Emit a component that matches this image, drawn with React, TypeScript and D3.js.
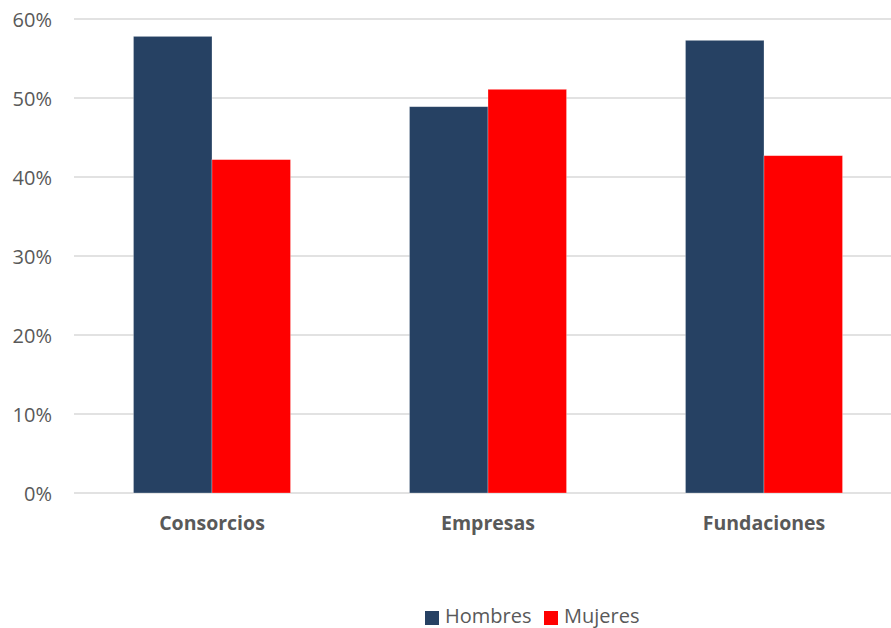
import React from "react";
import * as d3 from "d3";

const categories = ["Consorcios", "Empresas", "Fundaciones"];
const seriesNames = ["Hombres", "Mujeres"];
const hombres = [0.578, 0.489, 0.573];
const mujeres = [0.422, 0.511, 0.427];
const yTicks = [0, 0.1, 0.2, 0.3, 0.4, 0.5, 0.6];
const colors = ["#264163", "#FF0000"];

const W = 891;
const H = 628;

export default function App() {
  const x = d3
    .scaleBand<string>()
    .domain(categories)
    .range([74, 902])
    .paddingInner(0.431)
    .paddingOuter(0.2155);
  const xs = d3.scaleBand<string>().domain(seriesNames).range([0, x.bandwidth()]);
  const y = d3.scaleLinear().domain([0, 0.6]).range([493, 19]);
  const fmt = d3.format(".0%");
  const values = [hombres, mujeres];
  const font = "'Open Sans', sans-serif";

  return (
    <svg
      width={W}
      height={H}
      style={{ position: "absolute", left: 0, top: 0, background: "#fff" }}
      fontFamily={font}
    >
      {yTicks.map((t) => (
        <g key={t}>
          <line x1={74} x2={W} y1={y(t)} y2={y(t)} stroke="#d9d9d9" strokeWidth={1.5} />
          <text
            x={52}
            y={y(t)}
            textAnchor="end"
            dominantBaseline="central"
            fontSize={20}
            fill="#595959"
          >
            {fmt(t)}
          </text>
        </g>
      ))}
      {categories.map((c, i) => (
        <g key={c}>
          {seriesNames.map((s, j) => (
            <rect
              key={s}
              x={(x(c) ?? 0) + (xs(s) ?? 0)}
              y={y(values[j][i])}
              width={xs.bandwidth()}
              height={y(0) - y(values[j][i])}
              fill={colors[j]}
              stroke="#ffffff"
              strokeOpacity={0.4}
              strokeWidth={0.7}
            />
          ))}
          <text
            x={(x(c) ?? 0) + x.bandwidth() / 2}
            y={530}
            textAnchor="middle"
            fontSize={19.5}
            fontWeight="bold"
            fill="#595959"
          >
            {c}
          </text>
        </g>
      ))}
      <g>
        <rect x={425} y={611} width={14} height={14} fill={colors[0]} />
        <text x={445} y={615} dominantBaseline="central" fontSize={20} fill="#595959">
          {seriesNames[0]}
        </text>
        <rect x={544} y={611} width={14} height={14} fill={colors[1]} />
        <text x={564} y={615} dominantBaseline="central" fontSize={20} fill="#595959">
          {seriesNames[1]}
        </text>
      </g>
    </svg>
  );
}
